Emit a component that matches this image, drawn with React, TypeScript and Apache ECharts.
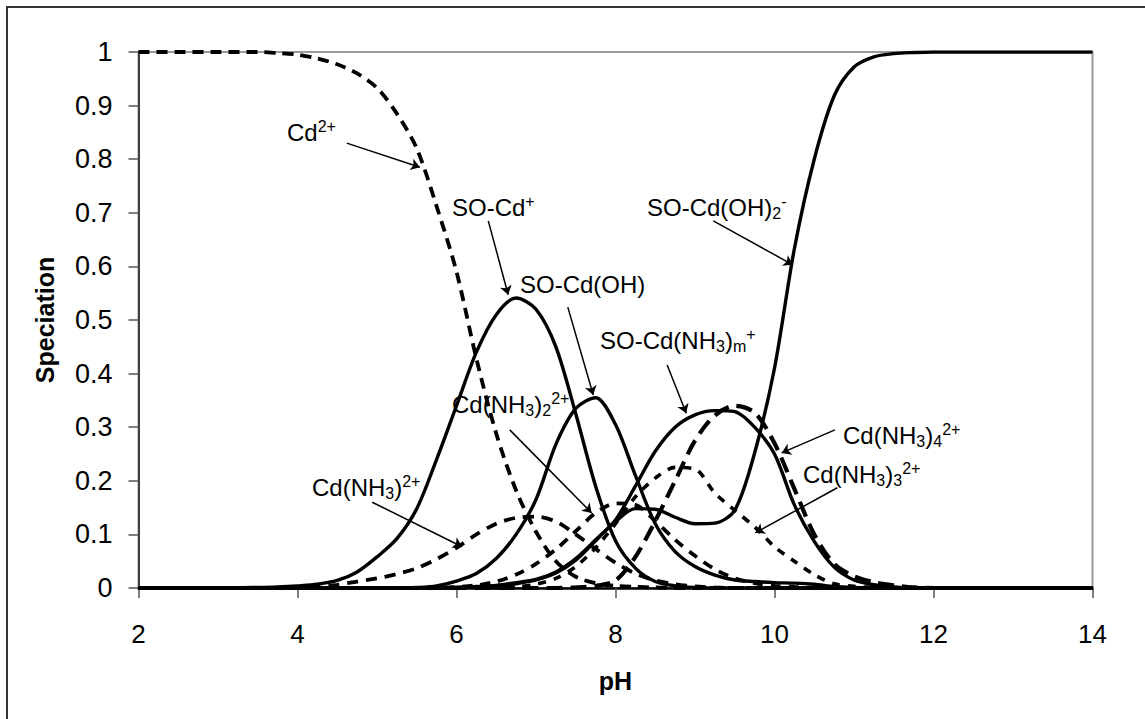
import { useEffect, useRef } from 'react';
import * as echarts from 'echarts';

const FONT = '"Liberation Sans", Arial, Helvetica, sans-serif';

// pH grid shared by every species curve
const PH = [
  2, 2.5, 3, 3.5, 3.75, 4, 4.25, 4.5, 4.75, 5, 5.25, 5.5, 5.75, 6, 6.25, 6.5, 6.75, 7, 7.25, 7.5,
  7.75, 8, 8.25, 8.5, 8.75, 9, 9.25, 9.5, 9.75, 10, 10.25, 10.5, 10.75, 11, 11.25, 11.5, 11.75, 12,
  12.5, 13, 13.5, 14,
];

// Dissolved species (fraction of total Cd)
const CD2 = [
  1, 1, 1, 1, 0.998, 0.995, 0.988, 0.977, 0.96, 0.933, 0.885, 0.82, 0.712, 0.59, 0.428, 0.288, 0.182,
  0.105, 0.05, 0.021, 0.009, 0.004, 0.002, 0.001, 0, 0, 0, 0, 0, 0, 0, 0, 0, 0, 0, 0, 0, 0, 0, 0, 0, 0,
];
const CD_NH3 = [
  0, 0, 0, 0, 0, 0.001, 0.002, 0.006, 0.012, 0.018, 0.026, 0.037, 0.054, 0.075, 0.1, 0.12, 0.131,
  0.133, 0.124, 0.1, 0.073, 0.047, 0.027, 0.014, 0.007, 0.003, 0.001, 0, 0, 0, 0, 0, 0, 0, 0, 0, 0, 0,
  0, 0, 0, 0,
];
const CD_NH3_2 = [
  0, 0, 0, 0, 0, 0, 0, 0, 0, 0, 0, 0, 0, 0.002, 0.005, 0.012, 0.025, 0.045, 0.072, 0.106, 0.14, 0.158,
  0.155, 0.125, 0.09, 0.06, 0.035, 0.018, 0.009, 0.004, 0.002, 0.001, 0, 0, 0, 0, 0, 0, 0, 0, 0, 0,
];
const CD_NH3_3 = [
  0, 0, 0, 0, 0, 0, 0, 0, 0, 0, 0, 0, 0, 0, 0, 0, 0.002, 0.007, 0.018, 0.04, 0.075, 0.12, 0.17, 0.205,
  0.225, 0.222, 0.177, 0.145, 0.114, 0.077, 0.05, 0.025, 0.008, 0.003, 0.001, 0, 0, 0, 0, 0, 0, 0,
];
const CD_NH3_4 = [
  0, 0, 0, 0, 0, 0, 0, 0, 0, 0, 0, 0, 0, 0, 0, 0, 0, 0, 0, 0.001, 0.004, 0.014, 0.058, 0.125, 0.2,
  0.275, 0.322, 0.34, 0.327, 0.27, 0.185, 0.1, 0.045, 0.022, 0.011, 0.005, 0.001, 0, 0, 0, 0, 0,
];

// Surface complexes
const SO_CD = [
  0, 0, 0, 0.001, 0.002, 0.004, 0.007, 0.014, 0.03, 0.058, 0.092, 0.148, 0.24, 0.34, 0.44, 0.51,
  0.541, 0.52, 0.45, 0.325, 0.19, 0.088, 0.037, 0.012, 0.004, 0.001, 0, 0, 0, 0, 0, 0, 0, 0, 0, 0, 0,
  0, 0, 0, 0, 0,
];
const SO_CD_OH = [
  0, 0, 0, 0, 0, 0, 0, 0, 0, 0, 0, 0.001, 0.004, 0.013, 0.027, 0.055, 0.1, 0.165, 0.268, 0.335, 0.355,
  0.305, 0.21, 0.12, 0.068, 0.04, 0.024, 0.015, 0.012, 0.01, 0.009, 0.007, 0.003, 0.001, 0, 0, 0, 0,
  0, 0, 0, 0,
];
const SO_CD_NH3 = [
  0, 0, 0, 0, 0, 0, 0, 0, 0, 0, 0, 0, 0, 0.001, 0.003, 0.005, 0.01, 0.016, 0.03, 0.055, 0.09, 0.127,
  0.19, 0.255, 0.3, 0.323, 0.331, 0.329, 0.3, 0.25, 0.155, 0.087, 0.039, 0.015, 0.006, 0.002, 0, 0, 0,
  0, 0, 0,
];
const SO_CD_OH2 = [
  0, 0, 0, 0, 0, 0, 0, 0, 0, 0, 0, 0, 0, 0.001, 0.002, 0.004, 0.008, 0.015, 0.028, 0.052, 0.088, 0.124,
  0.148, 0.147, 0.132, 0.12, 0.121, 0.145, 0.252, 0.41, 0.633, 0.8, 0.918, 0.972, 0.991, 0.997, 0.999,
  1, 1, 1, 1, 1,
];

type Curve = { name: string; values: number[]; dash: number[] | null; width: number };

const CURVES: Curve[] = [
  { name: 'Cd2+', values: CD2, dash: [11, 7], width: 3.8 },
  { name: 'Cd(NH3)2+', values: CD_NH3, dash: [11, 8], width: 3.8 },
  { name: 'Cd(NH3)2 2+', values: CD_NH3_2, dash: [10, 8], width: 3.8 },
  { name: 'Cd(NH3)3 2+', values: CD_NH3_3, dash: [8, 8], width: 3.6 },
  { name: 'Cd(NH3)4 2+', values: CD_NH3_4, dash: [16, 8], width: 4.2 },
  { name: 'SO-Cd+', values: SO_CD, dash: null, width: 3.4 },
  { name: 'SO-Cd(OH)', values: SO_CD_OH, dash: null, width: 3.4 },
  { name: 'SO-Cd(NH3)m+', values: SO_CD_NH3, dash: null, width: 3.4 },
  { name: 'SO-Cd(OH)2-', values: SO_CD_OH2, dash: null, width: 3.4 },
];

// Species labels (rich text) with their left / top position in the chart
const LABELS = [
  { text: 'Cd{sup|2+}', x: 287, y: 118 },
  { text: 'SO-Cd{sup|+}', x: 452, y: 193 },
  { text: 'SO-Cd(OH){sub|2}{sup|-}', x: 647, y: 193 },
  { text: 'SO-Cd(OH)', x: 520, y: 270 },
  { text: 'SO-Cd(NH{sub|3}){sub|m}{sup|+}', x: 600, y: 326 },
  { text: 'Cd(NH{sub|3}){sub|2}{sup|2+}', x: 452, y: 390 },
  { text: 'Cd(NH{sub|3}){sup|2+}', x: 312, y: 473 },
  { text: 'Cd(NH{sub|3}){sub|4}{sup|2+}', x: 843, y: 421 },
  { text: 'Cd(NH{sub|3}){sub|3}{sup|2+}', x: 803, y: 460 },
];

// Leader arrows from each label to its curve, [pH, fraction] pairs
const ARROWS: [number[], number[]][] = [
  [[4.62, 0.83], [5.54, 0.785]],
  [[6.4, 0.685], [6.65, 0.547]],
  [[9.23, 0.685], [10.23, 0.603]],
  [[7.4, 0.524], [7.72, 0.36]],
  [[8.65, 0.416], [8.89, 0.326]],
  [[6.67, 0.295], [7.7, 0.14]],
  [[4.94, 0.16], [6.07, 0.077]],
  [[10.76, 0.295], [10.09, 0.252]],
  [[10.79, 0.187], [9.76, 0.103]],
];

const RICH = {
  sup: { fontSize: 16, lineHeight: 12, verticalAlign: 'top', fontFamily: FONT, fill: '#000' },
  sub: { fontSize: 16, lineHeight: 12, verticalAlign: 'bottom', fontFamily: FONT, fill: '#000' },
};

export default function App() {
  const ref = useRef<HTMLDivElement>(null);

  useEffect(() => {
    if (!ref.current) return;
    const chart = echarts.init(ref.current, undefined, { renderer: 'svg' });

    const series: any[] = CURVES.map((c) => ({
      name: c.name,
      type: 'line',
      data: PH.map((x, i) => [x, c.values[i]]),
      showSymbol: false,
      symbol: 'none',
      smooth: 0.3,
      silent: true,
      lineStyle: {
        color: '#000',
        width: c.width,
        type: c.dash ? c.dash : 'solid',
        cap: 'butt',
      },
    }));

    series.push({
      name: 'arrows',
      type: 'line',
      data: [],
      silent: true,
      markLine: {
        silent: true,
        symbol: ['none', 'arrow'],
        symbolSize: 9,
        label: { show: false },
        lineStyle: { color: '#000', width: 1.5, type: 'solid' },
        data: ARROWS.map(([a, b]) => [{ coord: a }, { coord: b }]),
      },
    });

    chart.setOption({
      animation: false,
      backgroundColor: '#fff',
      grid: {
        left: 138.5,
        top: 52,
        width: 954,
        height: 536,
        show: true,
        borderColor: '#9a9a9a',
        borderWidth: 2,
        backgroundColor: 'transparent',
      },
      xAxis: {
        type: 'value',
        min: 2,
        max: 14,
        interval: 2,
        name: 'pH',
        nameLocation: 'middle',
        nameGap: 80,
        nameTextStyle: { fontFamily: FONT, fontSize: 25, fontWeight: 'bold', color: '#000' },
        axisLine: { show: true, onZero: false, lineStyle: { color: '#000', width: 2.5 } },
        axisTick: { show: true, inside: false, length: 10, lineStyle: { color: '#555', width: 1.5 } },
        axisLabel: { fontFamily: FONT, fontSize: 26, color: '#000', margin: 33 },
        splitLine: { show: false },
      },
      yAxis: {
        type: 'value',
        min: 0,
        max: 1,
        interval: 0.1,
        name: 'Speciation',
        nameLocation: 'middle',
        nameGap: 81,
        nameRotate: 90,
        nameTextStyle: { fontFamily: FONT, fontSize: 25, fontWeight: 'bold', color: '#000' },
        axisLine: { show: true, onZero: false, lineStyle: { color: '#404040', width: 2 } },
        axisTick: { show: true, inside: false, length: 10, lineStyle: { color: '#555', width: 1.5 } },
        axisLabel: {
          fontFamily: FONT,
          fontSize: 27,
          color: '#000',
          margin: 26,
          formatter: (v: number) => String(+v.toFixed(1)),
        },
        splitLine: { show: false },
      },
      graphic: [
        {
          type: 'rect',
          silent: true,
          z: -10,
          shape: { x: 7, y: 7, width: 1170, height: 760 },
          style: { fill: 'none', stroke: '#333', lineWidth: 2 },
        },
        ...LABELS.map((l) => ({
          type: 'text',
          silent: true,
          x: l.x,
          y: l.y,
          z: 100,
          style: {
            text: l.text,
            fill: '#000',
            fontSize: 24,
            fontFamily: FONT,
            lineHeight: 28,
            align: 'left',
            verticalAlign: 'top',
            rich: RICH,
          },
        })),
      ],
      series,
    });

    return () => chart.dispose();
  }, []);

  return (
    <div
      ref={ref}
      style={{ position: 'absolute', left: 0, top: 0, width: 1145, height: 719, background: '#fff' }}
    />
  );
}
